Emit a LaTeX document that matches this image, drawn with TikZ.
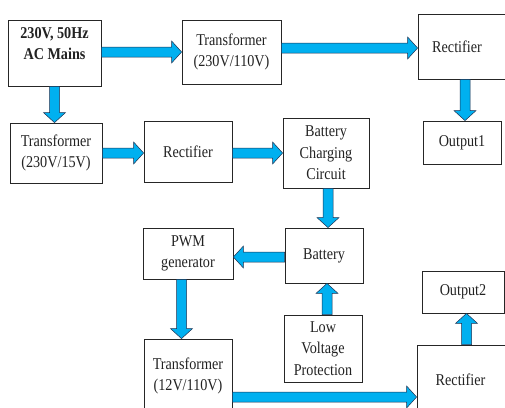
\documentclass[tikz,border=0pt]{standalone}
\usepackage{fontspec}
\setmainfont[FakeStretch=0.86]{Liberation Serif}
\usepackage{tikz}
\usetikzlibrary{
  calc,
  positioning
}
\definecolor{psFlow}{HTML}{00B0F0}
\definecolor{psEdge}{HTML}{1F3050}
\definecolor{psInk}{HTML}{222222}
\tikzset{
  psbox/.style={
    draw=black!85, line width=0.8pt, fill=white, inner sep=0pt,
    align=center, text=psInk, font=\fontsize{16.5}{21.5}\selectfont
  },
  flowarrow/.style={fill=psFlow, draw=psEdge, line width=0.5pt, line join=miter}
}
% block arrow from #1 to #2 (shaft 10pt, head 22pt wide, 10pt long)
\newcommand{\flowarr}[2]{%
  \filldraw[flowarrow] let \p1=(#1), \p2=(#2),
    \n1={veclen(\x2-\x1,\y2-\y1)}, \n2={(\x2-\x1)/\n1}, \n3={(\y2-\y1)/\n1}
  in ({\x1-\n3*5},{\y1+\n2*5})
  -- ({\x2-\n2*10-\n3*5},{\y2-\n3*10+\n2*5})
  -- ({\x2-\n2*10-\n3*11},{\y2-\n3*10+\n2*11})
  -- (\p2)
  -- ({\x2-\n2*10+\n3*11},{\y2-\n3*10-\n2*11})
  -- ({\x2-\n2*10+\n3*5},{\y2-\n3*10-\n2*5})
  -- ({\x1+\n3*5},{\y1-\n2*5}) -- cycle;}

\begin{document}
\begin{tikzpicture}[x=1pt, y=-1pt]
  \path[use as bounding box, fill=white] (0,0) rectangle (505,407);
  % supply side
  \node[psbox, minimum width=93pt, minimum height=66pt, font=\fontsize{16.5}{21.5}\selectfont\bfseries] (mains) at (54.5,53) {230V, 50Hz\\AC Mains\\[-3pt]~};
  \node[psbox, minimum width=99pt, minimum height=64pt] (tra) at (231.5,52) {Transformer\\(230V/110V)};
  \node[psbox, minimum width=94pt, minimum height=65pt] (recA) at (465,46.5) {Rectifier\hspace*{16pt}};
  \node[psbox, minimum width=78pt, minimum height=43pt] (out1) at (462,142.5) {Output1};
  % charging path
  \node[psbox, minimum width=92pt, minimum height=60pt] (trb) at (56,153) {Transformer\\(230V/15V)};
  \node[psbox, minimum width=88pt, minimum height=61pt] (recB) at (188,151.5) {Rectifier};
  \node[psbox, minimum width=86pt, minimum height=70pt] (bcc) at (326,153) {Battery\\Charging\\Circuit};
  \node[psbox, minimum width=78pt, minimum height=55pt] (bat) at (324,255.5) {Battery};
  \node[psbox, minimum width=90pt, minimum height=51pt] (pwm) at (188,253.5) {PWM\\generator};
  \node[psbox, minimum width=78pt, minimum height=67pt] (lvp) at (323,348.5) {Low\\Voltage\\Protection};
  % inverter side
  \node[psbox, minimum width=88pt, minimum height=74pt] (trc) at (188,376) {Transformer\\(12V/110V)};
  \node[psbox, minimum width=95pt, minimum height=70pt] (recC) at (464.5,380) {Rectifier\hspace*{8pt}};
  \node[psbox, minimum width=82pt, minimum height=42pt] (out2) at (463,292) {Output2};

  \flowarr{mains.east |- tra.west}{tra.west}
  \flowarr{$(tra.east)+(0,-4)$}{$(tra.east -| recA.west)+(0,-4)$}
  \flowarr{mains.south}{mains.south |- trb.north}
  \flowarr{recA.south}{recA.south |- out1.north}
  \flowarr{trb.east}{trb.east -| recB.west}
  \flowarr{recB.east |- bcc.west}{bcc.west}
  \flowarr{$(bcc.south)+(2,0)$}{$(bcc.south |- bat.north)+(2,0)$}
  \flowarr{$(bat.west)+(0,1.5)$}{$(bat.west -| pwm.east)+(0,1.5)$}
  \flowarr{$(lvp.north)+(4,0)$}{$(lvp.north |- bat.south)+(4,0)$}
  \flowarr{$(pwm.south)+(-6.5,0)$}{$(pwm.south |- trc.north)+(-6.5,0)$}
  \flowarr{$(trc.east)+(0,21)$}{$(trc.east -| recC.west)+(0,21)$}
  \flowarr{$(recC.north)+(2,0)$}{$(recC.north |- out2.south)+(2,0)$}
\end{tikzpicture}
\end{document}
